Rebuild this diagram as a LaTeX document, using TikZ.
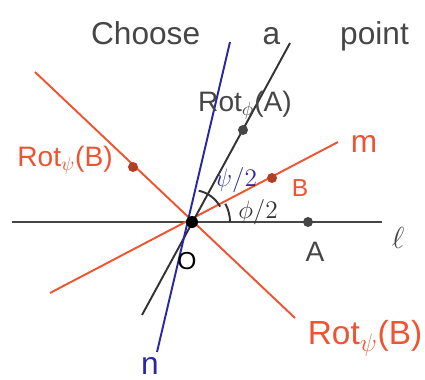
\documentclass[tikz,border=0pt]{standalone}
\usepackage{fontspec}
\setmainfont{Liberation Sans}
\usepackage{tikz}
\usetikzlibrary{calc}
\definecolor{penred}{RGB}{238,84,50}
\definecolor{penblue}{RGB}{40,40,165}
\definecolor{pengray}{RGB}{70,70,70}
\newcommand{\fs}[1]{\fontsize{#1}{#1}\selectfont}

\begin{document}
\begin{tikzpicture}[line width=1.1pt]
    \useasboundingbox (0,0) rectangle (8.5,7.58);

    % Centre and ends of the lines
    \coordinate (O) at (3.84,3.14);
    \coordinate (L1) at (0.24,3.14);
    \coordinate (L2) at (7.64,3.14);
    \coordinate (M1) at (1.0,1.72);
    \coordinate (M2) at (6.76,4.74);
    \coordinate (K1) at (0.7,6.14);
    \coordinate (K2) at (5.9,1.22);
    \coordinate (N1) at (3.14,0.54);
    \coordinate (N2) at (4.6,6.74);
    \coordinate (R1) at (2.84,1.28);
    \coordinate (R2) at (5.8,6.72);

    % Points
    \coordinate (A) at (6.16,3.14);
    \coordinate (B) at (5.44,4.02);
    \coordinate (RA) at (4.86,4.98);
    \coordinate (RB) at (2.66,4.24);

    % Lines l, m, n and the two image lines
    \draw[pengray] (L1) -- (L2);
    \draw[penred] (M1) -- (M2);
    \draw[penred] (K1) -- (K2);
    \draw[black!80] (R1) -- (R2);
    \draw[penblue] (N1) -- (N2);

    % Half angles
    \draw[black!80] (O) ++(0:0.76) arc (0:28.7:0.76);
    \draw[black!80] (O) ++(28.7:0.64) arc (28.7:78:0.64);

    % Dots
    \fill[black] (O) circle (0.12);
    \foreach \p in {A, RA} {
        \fill[pengray] (\p) circle (0.1);
    }
    \foreach \p in {B, RB} {
        \fill[penred!75!black] (\p) circle (0.1);
    }

    % Labels
    \node[pengray, font=\fs{18}] (title) at (5.0,6.86) {Choose\hspace{1.25cm}a\hspace{1.2cm}point};
    \node[pengray, font=\fs{16}] (lblRA) at (4.9,5.48) {Rot$_\phi$(A)};
    \node[penred, font=\fs{16}] (lblRB) at (1.3,4.38) {Rot$_\psi$(B)};
    \node[penred, font=\fs{19}] (lblRB2) at (7.3,0.82) {Rot$_\psi$(B)};
    \node[penred, font=\fs{18}] (lblm) at (7.28,4.7) {m};
    \node[penred, font=\fs{14}] (lblB) at (6.0,3.82) {B};
    \node[pengray, font=\fs{18}] (lbll) at (7.96,2.82) {$\ell$};
    \node[pengray, font=\fs{16}] (lblA) at (6.3,2.54) {A};
    \node[black, font=\fs{14}] (lblO) at (3.74,2.36) {O};
    \node[penblue, font=\fs{18}] (lbln) at (3.0,0.26) {n};
    \node[black!80, font=\fs{14}] (lblphi) at (5.16,3.34) {$\phi/2$};
    \node[penblue, font=\fs{14}] (lblpsi) at (4.72,3.98) {$\psi/2$};
\end{tikzpicture}
\end{document}
